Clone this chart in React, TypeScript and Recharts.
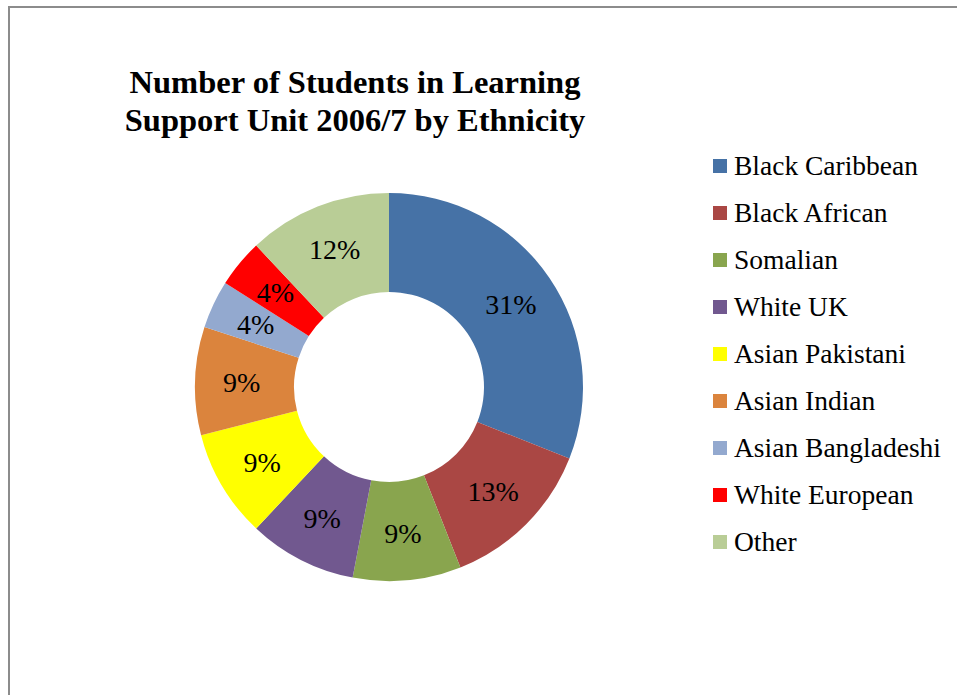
import React from 'react';
import { PieChart, Pie, Cell, Legend } from 'recharts';

const groups = [
  'Black Caribbean',
  'Black African',
  'Somalian',
  'White UK',
  'Asian Pakistani',
  'Asian Indian',
  'Asian Bangladeshi',
  'White European',
  'Other'
];
const shares = [31, 13, 9, 9, 9, 9, 4, 4, 12];
const colors = ['#4672A6', '#AA4744', '#89A54E', '#71588F', '#FFFF00', '#DB843D', '#93A9CF', '#FF0000', '#B9CD96'];

const data = groups.map((name, i) => ({ name, value: shares[i] }));

const SERIF = '"Liberation Serif", "Times New Roman", serif';
const RADIAN = Math.PI / 180;

const renderLabel = (props: any) => {
  const { cx, cy, midAngle, innerRadius, outerRadius, percent } = props;
  const r = innerRadius + (outerRadius - innerRadius) * 0.53;
  const x = cx + r * Math.cos(-midAngle * RADIAN);
  const y = cy + r * Math.sin(-midAngle * RADIAN);
  return (
    <text
      x={x}
      y={y}
      fill="#000"
      textAnchor="middle"
      dominantBaseline="central"
      fontFamily={SERIF}
      fontSize={28}
    >
      {`${Math.round(percent * 100)}%`}
    </text>
  );
};

// keep the series order, not alphabetical
const renderLegend = (props: any) => {
  const items = [...(props.payload || [])].sort(
    (a: any, b: any) => groups.indexOf(a.value) - groups.indexOf(b.value)
  );
  return (
    <div style={{ fontFamily: SERIF, fontSize: 27.5, color: '#000' }}>
      {items.map((entry: any, i: number) => (
        <div key={i} style={{ display: 'flex', alignItems: 'center', height: 46.9 }}>
          <span
            style={{
              display: 'inline-block',
              width: 14,
              height: 14,
              background: entry.color,
              marginRight: 7
            }}
          />
          <span style={{ whiteSpace: 'nowrap' }}>{entry.value}</span>
        </div>
      ))}
    </div>
  );
};

export default function App() {
  return (
    <div
      style={{
        position: 'absolute',
        left: 0,
        top: 0,
        width: 957,
        height: 695,
        overflow: 'hidden',
        background: '#fff'
      }}
    >
      {/* chart frame: only top and left edges are inside the crop */}
      <div style={{ position: 'absolute', left: 8, top: 6, width: 949, height: 2, background: '#8c8c8c' }} />
      <div style={{ position: 'absolute', left: 8, top: 6, width: 2, height: 689, background: '#8c8c8c' }} />

      <div
        style={{
          position: 'absolute',
          left: 105,
          top: 63,
          width: 500,
          textAlign: 'center',
          fontFamily: SERIF,
          fontWeight: 'bold',
          fontSize: 32.5,
          lineHeight: '38px',
          color: '#000'
        }}
      >
        Number of Students in Learning
        <br />
        Support Unit 2006/7 by Ethnicity
      </div>

      <div style={{ position: 'absolute', left: 0, top: 0 }}>
        <PieChart width={957} height={695} margin={{ top: 0, right: 0, bottom: 0, left: 0 }}>
          <Pie
            data={data}
            dataKey="value"
            nameKey="name"
            cx={389}
            cy={387}
            innerRadius={95}
            outerRadius={194}
            startAngle={90}
            endAngle={-270}
            stroke="none"
            label={renderLabel}
            labelLine={false}
            isAnimationActive={false}
          >
            {data.map((d, i) => (
              <Cell key={d.name} fill={colors[i]} />
            ))}
          </Pie>
          <Legend
            layout="vertical"
            content={renderLegend}
            wrapperStyle={{ left: 713, top: 143, width: 240 }}
          />
        </PieChart>
      </div>
    </div>
  );
}
